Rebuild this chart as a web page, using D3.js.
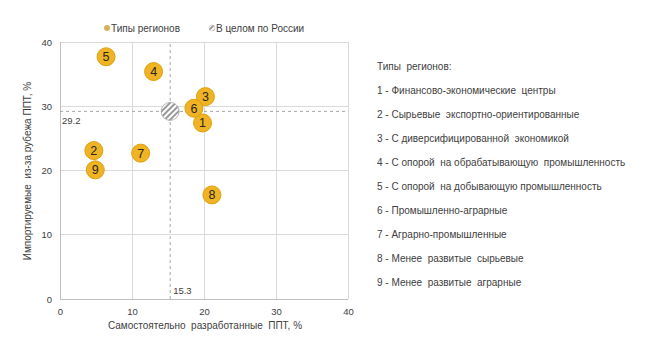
<!DOCTYPE html>
<html><head><meta charset="utf-8">
<script src="https://cdn.jsdelivr.net/npm/d3@7"></script>
<style>body{margin:0;background:#fff;}text{font-family:"Liberation Sans",Arial,sans-serif;}</style>
</head><body>
<script>
const ids = ["1","2","3","4","5","6","7","8","9"];
const xVals = [19.8, 4.7, 20.2, 13.0, 6.4, 18.6, 11.2, 21.1, 4.9];
const yVals = [27.4, 23.1, 31.5, 35.4, 37.7, 29.7, 22.7, 16.2, 20.1];
const russiaX = 15.3, russiaY = 29.2;
const ticks = [0, 10, 20, 30, 40];
const legendItems = ["Типы регионов", "В целом по России"];
const listTitle = "Типы  регионов:";
const typeNames = [
  "1 - Финансово-экономические  центры",
  "2 - Сырьевые  экспортно-ориентированные",
  "3 - С диверсифицированной  экономикой",
  "4 - С опорой  на обрабатывающую  промышленность",
  "5 - С опорой  на добывающую промышленность",
  "6 - Промышленно-аграрные",
  "7 - Аграрно-промышленные",
  "8 - Менее  развитые  сырьевые",
  "9 - Менее  развитые  аграрные"
];
const xTitle = "Самостоятельно  разработанные  ППТ, %";
const yTitle = "Импортируемые  из-за рубежа ППТ, %";

const W = 647, H = 350;
const svg = d3.select("body").append("svg").attr("width", W).attr("height", H);
const defs = svg.append("defs");
const pat = defs.append("pattern").attr("id","hatch").attr("patternUnits","userSpaceOnUse")
  .attr("width",4).attr("height",4).attr("patternTransform","rotate(45)");
pat.append("rect").attr("width",4).attr("height",4).attr("fill","#fff");
pat.append("rect").attr("width",2).attr("height",4).attr("fill","#999");

const x = d3.scaleLinear().domain([0,40]).range([60,348]);
const y = d3.scaleLinear().domain([0,40]).range([299,42]);
const txt = "#404040";

// grid
const g = svg.append("g");
g.selectAll(".vg").data(ticks.slice(1)).join("line")
  .attr("x1", d=>x(d)).attr("x2", d=>x(d)).attr("y1", y(0)).attr("y2", y(40))
  .attr("stroke","#d9d9d9").attr("stroke-width",1).attr("shape-rendering","crispEdges");
g.selectAll(".hg").data(ticks.slice(1)).join("line")
  .attr("x1", x(0)).attr("x2", x(40)).attr("y1", d=>y(d)).attr("y2", d=>y(d))
  .attr("stroke","#d9d9d9").attr("stroke-width",1).attr("shape-rendering","crispEdges");
g.append("line").attr("x1",x(0)).attr("x2",x(0)).attr("y1",y(0)).attr("y2",y(40))
  .attr("stroke","#bfbfbf").attr("shape-rendering","crispEdges");
g.append("line").attr("x1",x(0)).attr("x2",x(40)).attr("y1",y(0)).attr("y2",y(0))
  .attr("stroke","#bfbfbf").attr("shape-rendering","crispEdges");

const xAxis = svg.append("g").attr("transform",`translate(0,${y(0)})`)
  .call(d3.axisBottom(x).tickValues(ticks).tickSize(0).tickPadding(9));
const yAxis = svg.append("g").attr("transform",`translate(${x(0)},0)`)
  .call(d3.axisLeft(y).tickValues(ticks).tickSize(0).tickPadding(8));
[xAxis,yAxis].forEach(a=>{
  a.select(".domain").remove();
  a.selectAll("text").attr("fill",txt).style("font-size","9.5px").style("font-family","'Liberation Sans',Arial,sans-serif");
});

g.append("line").attr("x1",x(russiaX)).attr("x2",x(russiaX)).attr("y1",y(0)).attr("y2",y(40))
  .attr("stroke","#a6a6a6").attr("stroke-dasharray","3,3");
g.append("line").attr("x1",x(0)).attr("x2",x(40)).attr("y1",y(russiaY)).attr("y2",y(russiaY))
  .attr("stroke","#a6a6a6").attr("stroke-dasharray","3,3");
svg.append("text").attr("x",x(0)+2).attr("y",y(russiaY)+13).text(russiaY.toFixed(1))
  .attr("fill",txt).style("font-size","9.5px");
svg.append("text").attr("x",x(russiaX)+3).attr("y",y(0)-5).text(russiaX.toFixed(1))
  .attr("fill",txt).style("font-size","9.5px");

svg.append("circle").attr("cx",x(russiaX)).attr("cy",y(russiaY)).attr("r",9)
  .attr("fill","url(#hatch)").attr("stroke","#a6a6a6").attr("stroke-width",0.8);

const pts = ids.map((id,i)=>({id, x:xVals[i], y:yVals[i]}));
const pg = svg.append("g").selectAll("g").data(pts).join("g")
  .attr("transform", d=>`translate(${x(d.x)},${y(d.y)})`);
pg.append("circle").attr("r",9).attr("fill","#f0b323").attr("stroke","#dca10f").attr("stroke-width",1);
pg.append("text").text(d=>d.id).attr("text-anchor","middle").attr("dy","0.36em")
  .attr("fill","#262626").style("font-size","12.5px");

const lg = svg.append("g");
lg.append("circle").attr("cx",107).attr("cy",28).attr("r",3).attr("fill","#d6b25a");
lg.append("text").attr("x",111).attr("y",31.5).text(legendItems[0]).attr("fill",txt).style("font-size","10px");
lg.append("circle").attr("cx",212).attr("cy",28).attr("r",3).attr("fill","url(#hatch)").attr("stroke","#bfbfbf").attr("stroke-width",0.6);
lg.append("text").attr("x",216).attr("y",31.5).text(legendItems[1]).attr("fill",txt).style("font-size","10px");

svg.append("text").attr("x",205).attr("y",329).attr("text-anchor","middle").text(xTitle)
  .attr("fill",txt).style("font-size","10px").style("white-space","pre");
svg.append("text").attr("transform","translate(31,171) rotate(-90)").attr("text-anchor","middle").text(yTitle)
  .attr("fill",txt).style("font-size","10px").style("white-space","pre");

const lst = svg.append("g");
lst.append("text").attr("x",377).attr("y",70).text(listTitle).attr("fill",txt).style("font-size","10px").style("white-space","pre");
lst.selectAll(".it").data(typeNames).join("text")
  .attr("x",377).attr("y",(d,i)=>94+i*24).text(d=>d)
  .attr("fill",txt).style("font-size","10px").style("white-space","pre");
</script>
</body></html>
